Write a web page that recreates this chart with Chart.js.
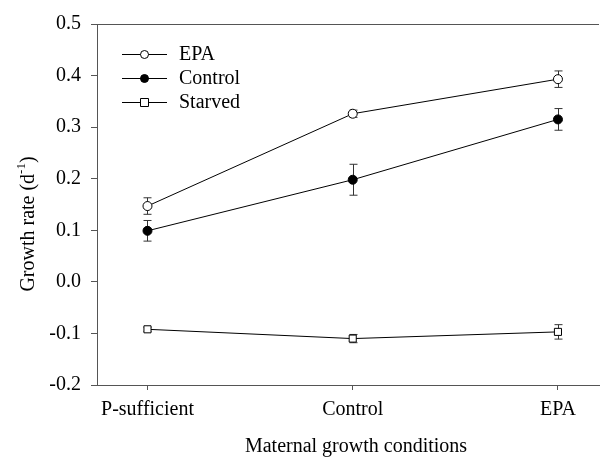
<!DOCTYPE html>
<html>
<head>
    <title>Growth rate by maternal growth conditions</title>
    <script src="https://cdn.jsdelivr.net/npm/chart.js"></script>
    <style>
        html, body { margin: 0; padding: 0; background: #fff; }
        #wrap { width: 605px; height: 457px; }
    </style>
</head>
<body>

<div id="wrap"><canvas id="growth_chart"></canvas></div>

<script>
const categories = ['P-sufficient', 'Control', 'EPA'];
const seriesNames = ['EPA', 'Control', 'Starved'];
const epaValues = [0.147, 0.326, 0.393];
const epaErrors = [0.016, 0.007, 0.016];
const controlValues = [0.099, 0.198, 0.315];
const controlErrors = [0.020, 0.030, 0.021];
const starvedValues = [-0.092, -0.110, -0.097];
const starvedErrors = [0.004, 0.008, 0.014];
const yTicks = [-0.2, -0.1, 0.0, 0.1, 0.2, 0.3, 0.4, 0.5];

const FONT = '"Liberation Serif", serif';
const AXIS = '#555';

function pts(vals, errs) {
    return vals.map((v, i) => ({ x: i, y: v, err: errs[i] }));
}

// error bars, drawn under the lines and markers
const errorBars = {
    id: 'errorBars',
    beforeDatasetsDraw(chart) {
        const ctx = chart.ctx;
        const xs = chart.scales.x, ys = chart.scales.y;
        ctx.save();
        ctx.strokeStyle = '#333';
        ctx.lineWidth = 1;
        chart.data.datasets.forEach(ds => {
            ds.data.forEach(p => {
                const x = Math.round(xs.getPixelForValue(p.x)) + 0.5;
                const y1 = ys.getPixelForValue(p.y + p.err);
                const y2 = ys.getPixelForValue(p.y - p.err);
                ctx.beginPath();
                ctx.moveTo(x, y1); ctx.lineTo(x, y2);
                ctx.moveTo(x - 4, y1); ctx.lineTo(x + 4, y1);
                ctx.moveTo(x - 4, y2); ctx.lineTo(x + 4, y2);
                ctx.stroke();
            });
        });
        ctx.restore();
    }
};

// top frame line, legend and axis titles
const decorations = {
    id: 'decorations',
    afterDraw(chart) {
        const ctx = chart.ctx;
        const a = chart.chartArea;
        ctx.save();
        ctx.strokeStyle = AXIS;
        ctx.lineWidth = 1;
        ctx.beginPath();
        ctx.moveTo(a.left, a.top + 0.5);
        ctx.lineTo(a.right, a.top + 0.5);
        ctx.stroke();

        // legend
        ctx.font = '20px ' + FONT;
        ctx.textBaseline = 'middle';
        chart.data.datasets.forEach((ds, i) => {
            const y = 54 + i * 24;
            ctx.strokeStyle = '#000';
            ctx.beginPath();
            ctx.moveTo(122, y + 0.5); ctx.lineTo(167, y + 0.5);
            ctx.stroke();
            ctx.fillStyle = ds.pointBackgroundColor;
            ctx.beginPath();
            if (ds.pointStyle === 'rect') {
                ctx.rect(140.5, y - 3.5, 8, 8);
            } else {
                ctx.arc(144.5, y + 0.5, 4, 0, Math.PI * 2);
            }
            ctx.fill();
            ctx.stroke();
            ctx.fillStyle = '#000';
            ctx.textAlign = 'left';
            ctx.fillText(ds.label, 179, y + 1);
        });

        // x title
        ctx.textAlign = 'center';
        ctx.textBaseline = 'alphabetic';
        ctx.fillText('Maternal growth conditions', 356, 452);

        // y title with superscript
        ctx.translate(34, 224);
        ctx.rotate(-Math.PI / 2);
        const main = 'Growth rate (d';
        ctx.font = '20px ' + FONT;
        const w1 = ctx.measureText(main).width;
        ctx.font = '13px ' + FONT;
        const w2 = ctx.measureText('-1').width;
        ctx.font = '20px ' + FONT;
        const w3 = ctx.measureText(')').width;
        let x = -(w1 + w2 + w3) / 2;
        ctx.textAlign = 'left';
        ctx.fillText(main, x, 0);
        x += w1;
        ctx.font = '13px ' + FONT;
        ctx.fillText('-1', x, -9);
        x += w2;
        ctx.font = '20px ' + FONT;
        ctx.fillText(')', x, 0);
        ctx.restore();
    }
};

function drawChart() {
    const ctx = document.getElementById('growth_chart').getContext('2d');
    const lineStyle = {
        borderColor: '#000',
        borderWidth: 1,
        pointBorderColor: '#000',
        pointBorderWidth: 1,
        fill: false,
        tension: 0
    };

    new Chart(ctx, {
        type: 'line',
        data: {
            datasets: [
                Object.assign({
                    label: seriesNames[0],
                    data: pts(epaValues, epaErrors),
                    pointStyle: 'circle',
                    pointRadius: 4.5,
                    pointBackgroundColor: '#fff'
                }, lineStyle),
                Object.assign({
                    label: seriesNames[1],
                    data: pts(controlValues, controlErrors),
                    pointStyle: 'circle',
                    pointRadius: 4.5,
                    pointBackgroundColor: '#000'
                }, lineStyle),
                Object.assign({
                    label: seriesNames[2],
                    data: pts(starvedValues, starvedErrors),
                    pointStyle: 'rect',
                    pointRadius: 5,
                    pointBackgroundColor: '#fff'
                }, lineStyle)
            ]
        },
        options: {
            responsive: true,
            maintainAspectRatio: false,
            animation: false,
            layout: { padding: { top: 24, left: 0, right: 0, bottom: 0 } },
            scales: {
                x: {
                    type: 'linear',
                    min: -0.246,
                    max: 2.2,
                    afterBuildTicks: axis => { axis.ticks = categories.map((c, i) => ({ value: i })); },
                    afterFit: axis => { axis.height = 72; },
                    ticks: {
                        callback: v => categories[v] !== undefined ? categories[v] : '',
                        color: '#000',
                        font: { family: FONT, size: 20 },
                        padding: 8,
                        maxRotation: 0
                    },
                    grid: { drawOnChartArea: false, tickLength: 5, color: AXIS },
                    border: { color: AXIS }
                },
                y: {
                    min: -0.2,
                    max: 0.5,
                    afterBuildTicks: axis => { axis.ticks = yTicks.map(v => ({ value: v })); },
                    afterFit: axis => { axis.width = 97; },
                    ticks: {
                        callback: v => v.toFixed(1),
                        color: '#000',
                        font: { family: FONT, size: 20 },
                        padding: 10
                    },
                    grid: { drawOnChartArea: false, tickLength: 6, color: AXIS },
                    border: { color: AXIS }
                }
            },
            plugins: {
                legend: { display: false },
                tooltip: { enabled: false }
            }
        },
        plugins: [errorBars, decorations]
    });
}

document.addEventListener("DOMContentLoaded", function() {
    document.fonts.load('20px "Liberation Serif"').then(drawChart, drawChart);
});
</script>

</body>
</html>
